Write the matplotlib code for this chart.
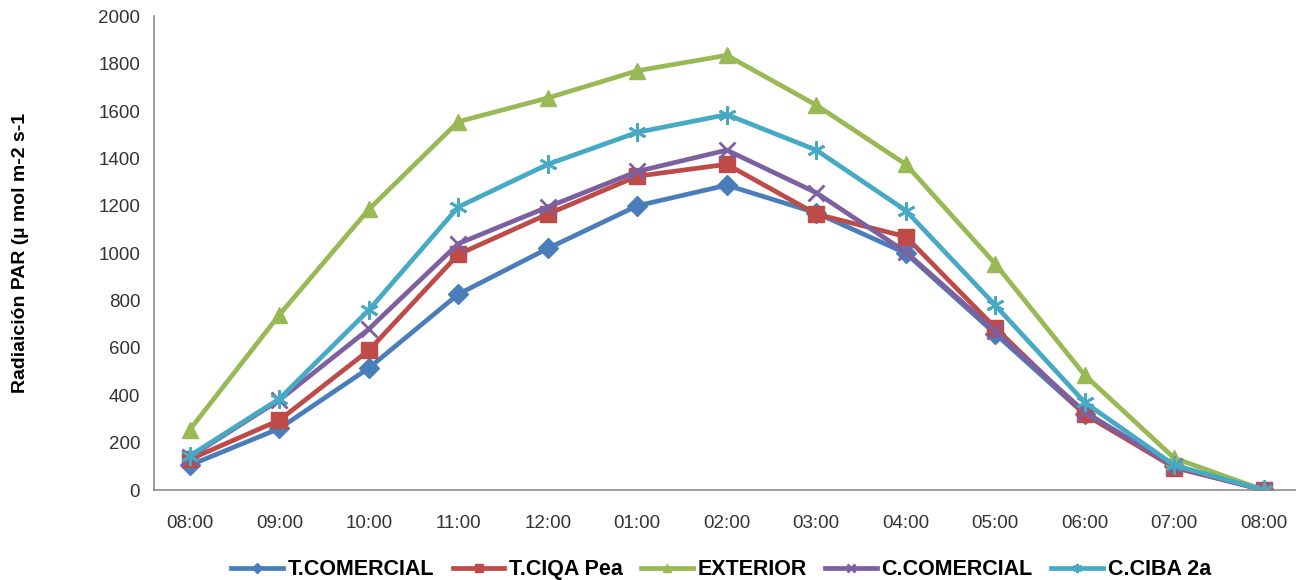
import matplotlib
matplotlib.use("Agg")
from matplotlib import pyplot as plt

# Hours of the day (category axis)
horas = ["08:00", "09:00", "10:00", "11:00", "12:00", "01:00", "02:00",
         "03:00", "04:00", "05:00", "06:00", "07:00", "08:00"]

# PAR radiation per treatment
t_comercial = [105, 260, 515, 827, 1020, 1200, 1287, 1170, 1000, 660, 320, 100, 0]
t_ciqa_pea = [130, 295, 590, 995, 1165, 1325, 1375, 1165, 1070, 685, 320, 95, 0]
exterior = [255, 740, 1185, 1555, 1655, 1770, 1835, 1625, 1375, 955, 485, 135, 0]
c_comercial = [140, 380, 680, 1040, 1195, 1345, 1435, 1255, 1005, 670, 330, 100, 0]
c_ciba_2a = [145, 385, 760, 1195, 1375, 1510, 1585, 1435, 1180, 780, 370, 105, 0]

plt.rcParams['font.family'] = ['Liberation Sans', 'DejaVu Sans']

fig = plt.figure(figsize=(13.1, 5.8), dpi=100)
ax = fig.add_axes([0.1176, 0.155, 0.871, 0.817])

x = range(len(horas))
lw = 3.4
ax.plot(x, t_comercial, color='#4A7EBB', lw=lw, marker='D', ms=10, label='T.COMERCIAL')
ax.plot(x, t_ciqa_pea, color='#BE4B48', lw=lw, marker='s', ms=11, label='T.CIQA Pea')
ax.plot(x, exterior, color='#98B954', lw=lw, marker='^', ms=12, label='EXTERIOR')
ax.plot(x, c_comercial, color='#7D60A0', lw=lw, marker='x', ms=11, mew=2, label='C.COMERCIAL')
ax.plot(x, c_ciba_2a, color='#46AAC5', lw=lw, marker=(6, 2, 0), ms=13, mew=2, label='C.CIBA 2a')

ax.set_xlim(-0.4, 12.35)
ax.set_ylim(0, 2000)
ax.set_yticks(range(0, 2001, 200))
ax.set_xticks(list(x))
ax.set_xticklabels(horas)
ax.tick_params(length=0, labelsize=13.5, colors='#333333', pad=10)
ax.tick_params(axis='x', pad=18)

for s in ['top', 'right']:
    ax.spines[s].set_visible(False)
for s in ['left', 'bottom']:
    ax.spines[s].set_color('#8C8C8C')
    ax.spines[s].set_linewidth(1.2)

ax.set_ylabel('Radiaición PAR (µ mol m-2 s-1', fontsize=14, fontweight='bold', labelpad=50)

ax.legend(loc='upper center', bbox_to_anchor=(0.497, -0.105), ncol=5, frameon=False,
          prop={'size': 15.5, 'weight': 'bold'}, handlelength=2.4, handletextpad=0.22,
          columnspacing=0.85, markerscale=0.5)

fig.savefig('out.png', dpi=100)
